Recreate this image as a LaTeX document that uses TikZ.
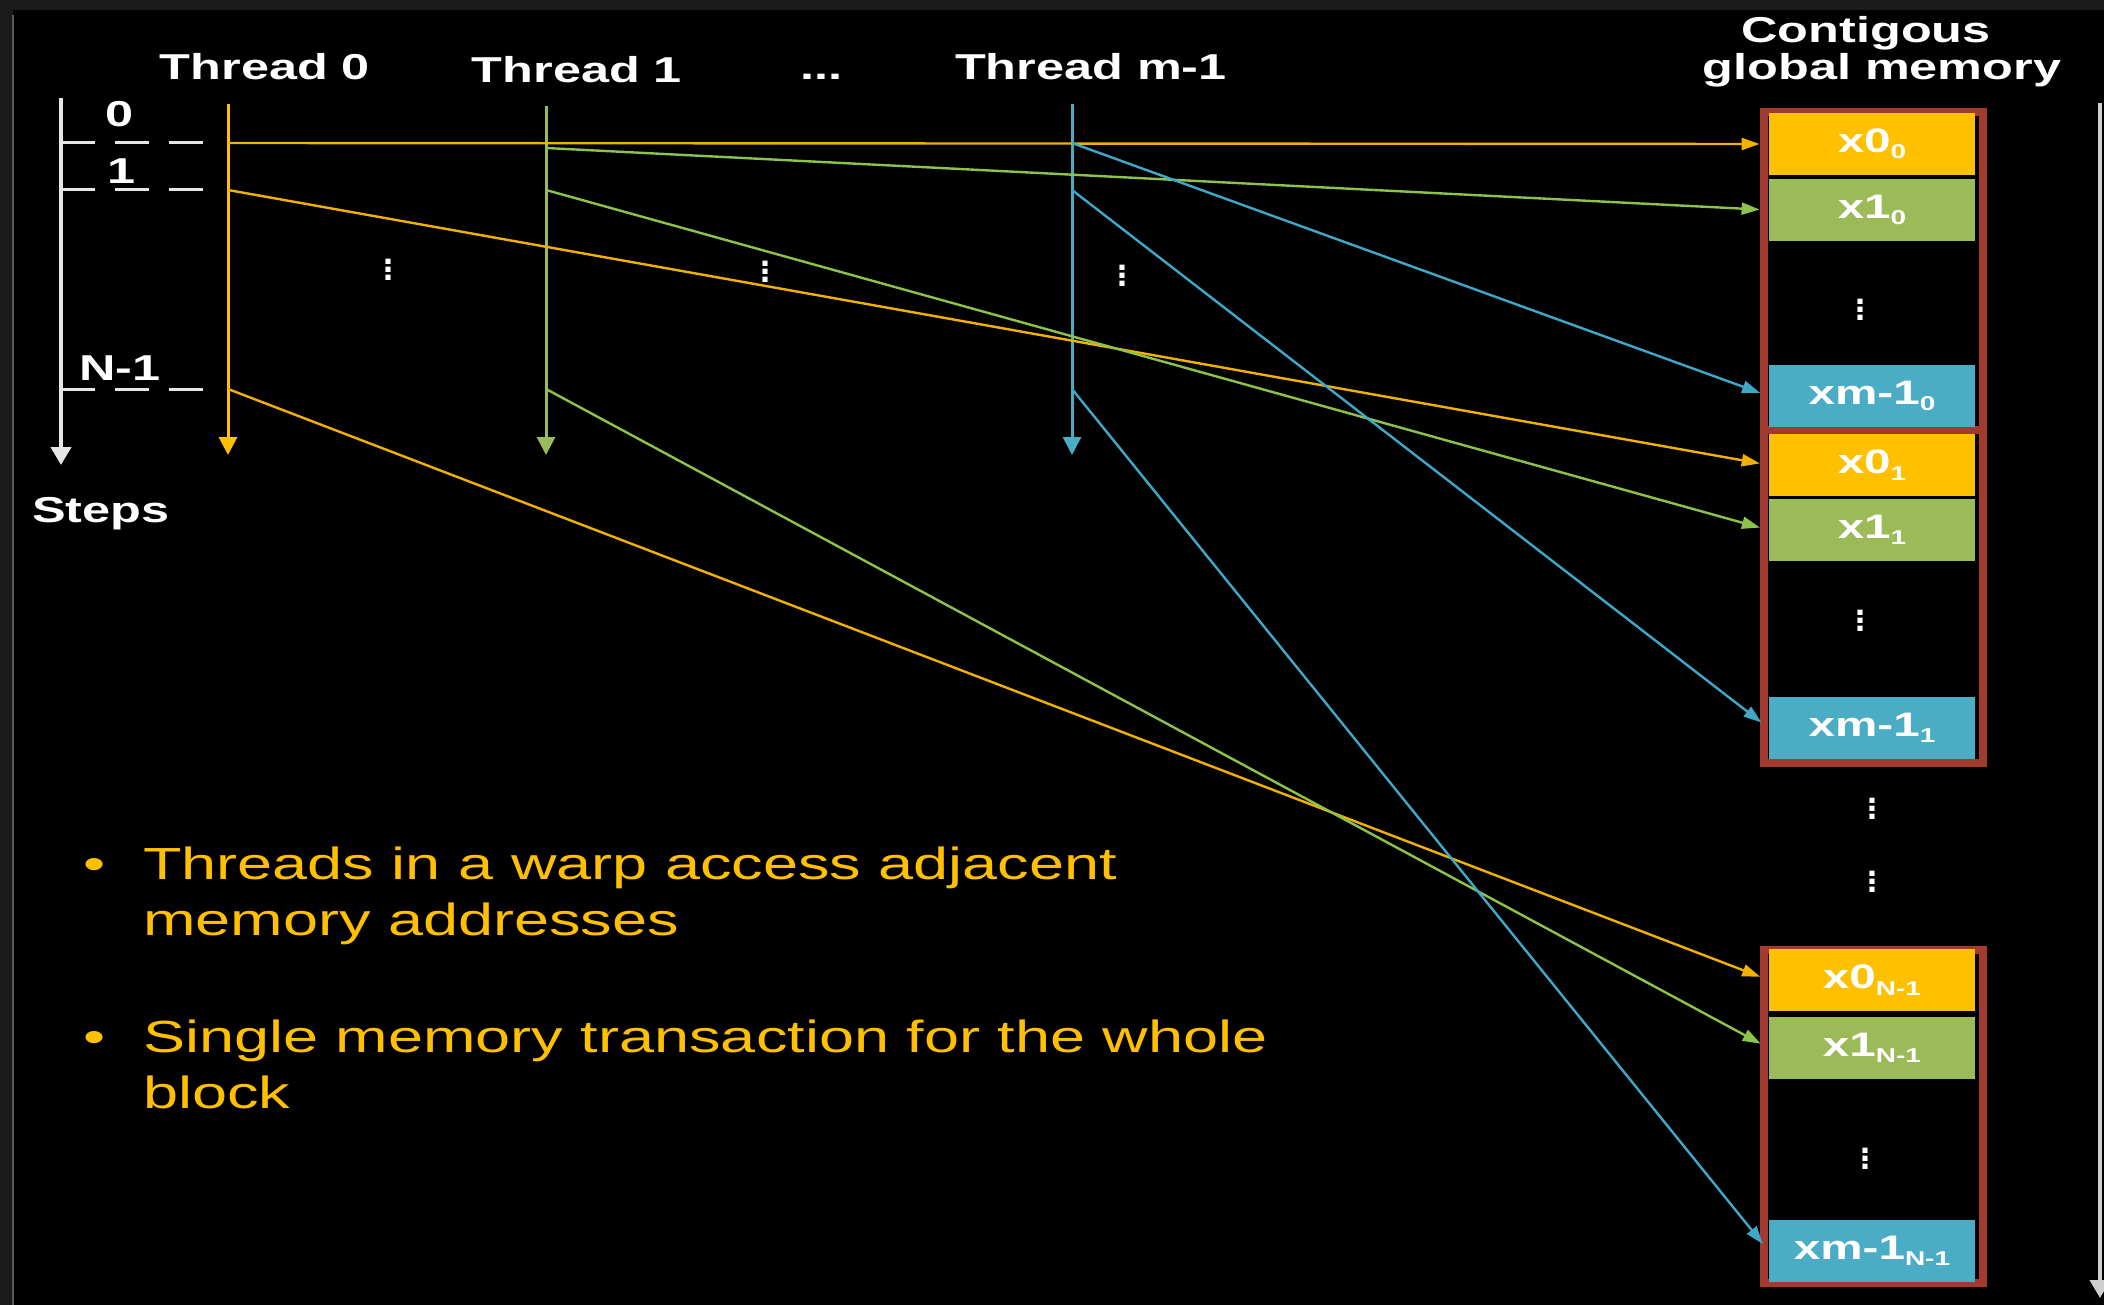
\documentclass[tikz,border=0pt]{standalone}
\usepackage{fontspec}
\setmainfont{Liberation Sans}
\newfontfamily\widefont[FakeStretch=1.4]{Liberation Sans}
\usetikzlibrary{arrows.meta}
\definecolor{frame}{HTML}{1B1B1B}
\definecolor{edge}{HTML}{5A5A5A}
\definecolor{gold}{HTML}{FFC000}
\definecolor{goldln}{HTML}{F2B000}
\definecolor{olive}{HTML}{9BBB59}
\definecolor{lime}{HTML}{8CC34A}
\definecolor{aqua}{HTML}{4BACC6}
\definecolor{aqualn}{HTML}{3FA8C8}
\definecolor{brick}{HTML}{A33A30}
\definecolor{axis}{HTML}{E6E6E6}
\newcommand{\lowidx}[1]{\raisebox{-0.35ex}{\fontsize{10}{10}\selectfont #1}}
\newcommand{\vdotsb}{\vbox{\baselineskip 4pt \lineskiplimit 0pt \hbox{.}\hbox{.}\hbox{.}}}
\tikzset{
  lab/.style={text=white, inner sep=0pt, font=\widefont\bfseries\fontsize{18}{20}\selectfont},
  body/.style={text=gold, inner sep=0pt, align=left, font=\widefont\fontsize{22.5}{28}\selectfont},
  dotsv/.style={text=white, inner sep=0pt, font=\bfseries\fontsize{18}{18}\selectfont},
  cell/.style={minimum width=103pt, minimum height=31pt, inner sep=0pt, text=white,
    font=\widefont\bfseries\fontsize{17}{19}\selectfont},
  membox/.style={draw=brick, line width=4pt},
  stepax/.style={draw=axis, line width=2pt, -{Triangle[width=10pt,length=9pt]}},
  tickln/.style={draw=axis, line width=1.5pt, dash pattern=on 17pt off 10pt},
  thr/.style={line width=1.5pt, -{Triangle[width=9pt,length=9pt]}},
  acc/.style={line width=1.2pt, shorten >=4.5pt, -{Triangle[width=6pt,length=9pt]}}
}
\begin{document}
\begin{tikzpicture}[x=0.5pt,y=-0.5pt]
  \useasboundingbox (0,0) rectangle (2104,1305);
  \fill[frame] (0,0) rectangle (2104,1305);
  \fill[black] (13,10) rectangle (2104,1305);
  \draw[edge, line width=1pt] (12.5,15) -- (12.5,1305);
  \coordinate (rtop) at (2100,103);
  \coordinate (rbot) at (2100,1298);
  \draw[stepax, draw=axis!90!black] (rtop) -- (rbot);

  % steps axis
  \coordinate (ax0) at (61,98);
  \coordinate (ax1) at (61,465);
  \draw[stepax] (ax0) -- (ax1);
  \foreach \y in {143,190,389} \draw[tickln] (61,\y) -- (205,\y);
  \node[lab, anchor=base] (s0) at (120,127) {0};
  \node[lab, anchor=base] (s1) at (122,184) {1};
  \node[lab, anchor=base] (sN) at (120,380) {N-1};
  \node[lab, anchor=base] (steps) at (101,522) {Steps};

  % threads
  \node[lab, anchor=base] (th0) at (265,80) {Thread 0};
  \node[lab, anchor=base] (th1) at (577,83) {Thread 1};
  \node[lab, anchor=base] (thd) at (821,80) {...};
  \node[lab, anchor=base] (thm) at (1091,80) {Thread m-1};

  \coordinate (t0a) at (228,104);  \coordinate (t0b) at (228,455);
  \coordinate (t1a) at (546,106);  \coordinate (t1b) at (546,455);
  \coordinate (tma) at (1072,104); \coordinate (tmb) at (1072,455);
  \draw[thr, gold] (t0a) -- (t0b);
  \draw[thr, olive] (t1a) -- (t1b);
  \draw[thr, aqua] (tma) -- (tmb);

  \coordinate (t0s0) at (228,143); \coordinate (t0s1) at (228,190); \coordinate (t0sN) at (228,389);
  \coordinate (t1s0) at (546,148); \coordinate (t1s1) at (546,190); \coordinate (t1sN) at (546,389);
  \coordinate (tms0) at (1072,143); \coordinate (tms1) at (1072,190); \coordinate (tmsN) at (1072,389);

  \node[dotsv] (d0) at (388,270) {\vdotsb};
  \node[dotsv] (d1) at (765,272) {\vdotsb};
  \node[dotsv] (dm) at (1122,276) {\vdotsb};

  % global memory
  \node[lab, anchor=base] (memtop) at (1866,43) {Contigous};
  \node[lab, anchor=base] (membot) at (1882,80) {global memory};

  \draw[membox] (1764,112) rectangle (1983,430);
  \draw[membox] (1764,430) rectangle (1983,763);
  \draw[membox] (1764,950) rectangle (1983,1283);

  \node[cell, fill=gold] (c00) at (1872,144) {x0\lowidx{0}};
  \node[cell, fill=olive] (c10) at (1872,210) {x1\lowidx{0}};
  \node[dotsv] (cd0) at (1860,310) {\vdotsb};
  \node[cell, fill=aqua] (cm0) at (1872,396) {xm-1\lowidx{0}};
  \node[cell, fill=gold] (c01) at (1872,465) {x0\lowidx{1}};
  \node[cell, fill=olive] (c11) at (1872,530) {x1\lowidx{1}};
  \node[dotsv] (cd1) at (1860,621) {\vdotsb};
  \node[cell, fill=aqua] (cm1) at (1872,728) {xm-1\lowidx{1}};
  \node[dotsv] (gap0) at (1872,809) {\vdotsb};
  \node[dotsv] (gap1) at (1872,882) {\vdotsb};
  \node[cell, fill=gold] (c0N) at (1872,980) {x0\lowidx{N-1}};
  \node[cell, fill=olive] (c1N) at (1872,1048) {x1\lowidx{N-1}};
  \node[dotsv] (cdN) at (1865,1159) {\vdotsb};
  \node[cell, fill=aqua] (cmN) at (1872,1251) {xm-1\lowidx{N-1}};

  % accesses
  \draw[acc, goldln] (t0s0) -- (c00.west);
  \draw[acc, goldln] (t0s1) -- (c01.west);
  \draw[acc, goldln] (t0sN) -- (c0N.west);
  \draw[acc, lime] (t1s0) -- (c10.west);
  \draw[acc, lime] (t1s1) -- (c11.west);
  \draw[acc, lime] (t1sN) -- (c1N.west);
  \draw[acc, aqualn] (tms0) -- (cm0.west);
  \draw[acc, aqualn] (tms1) -- (cm1.west);
  \draw[acc, aqualn] (tmsN) -- (cmN.west);

  % notes
  \node[body] (bul0) at (95,869) {\textbullet};
  \node[body, anchor=base west] (note0) at (143,935) {Threads in a warp access adjacent\\memory addresses};
  \node[body] (bul1) at (95,1042) {\textbullet};
  \node[body, anchor=base west] (note1) at (143,1108) {Single memory transaction for the whole\\block};
\end{tikzpicture}
\end{document}
